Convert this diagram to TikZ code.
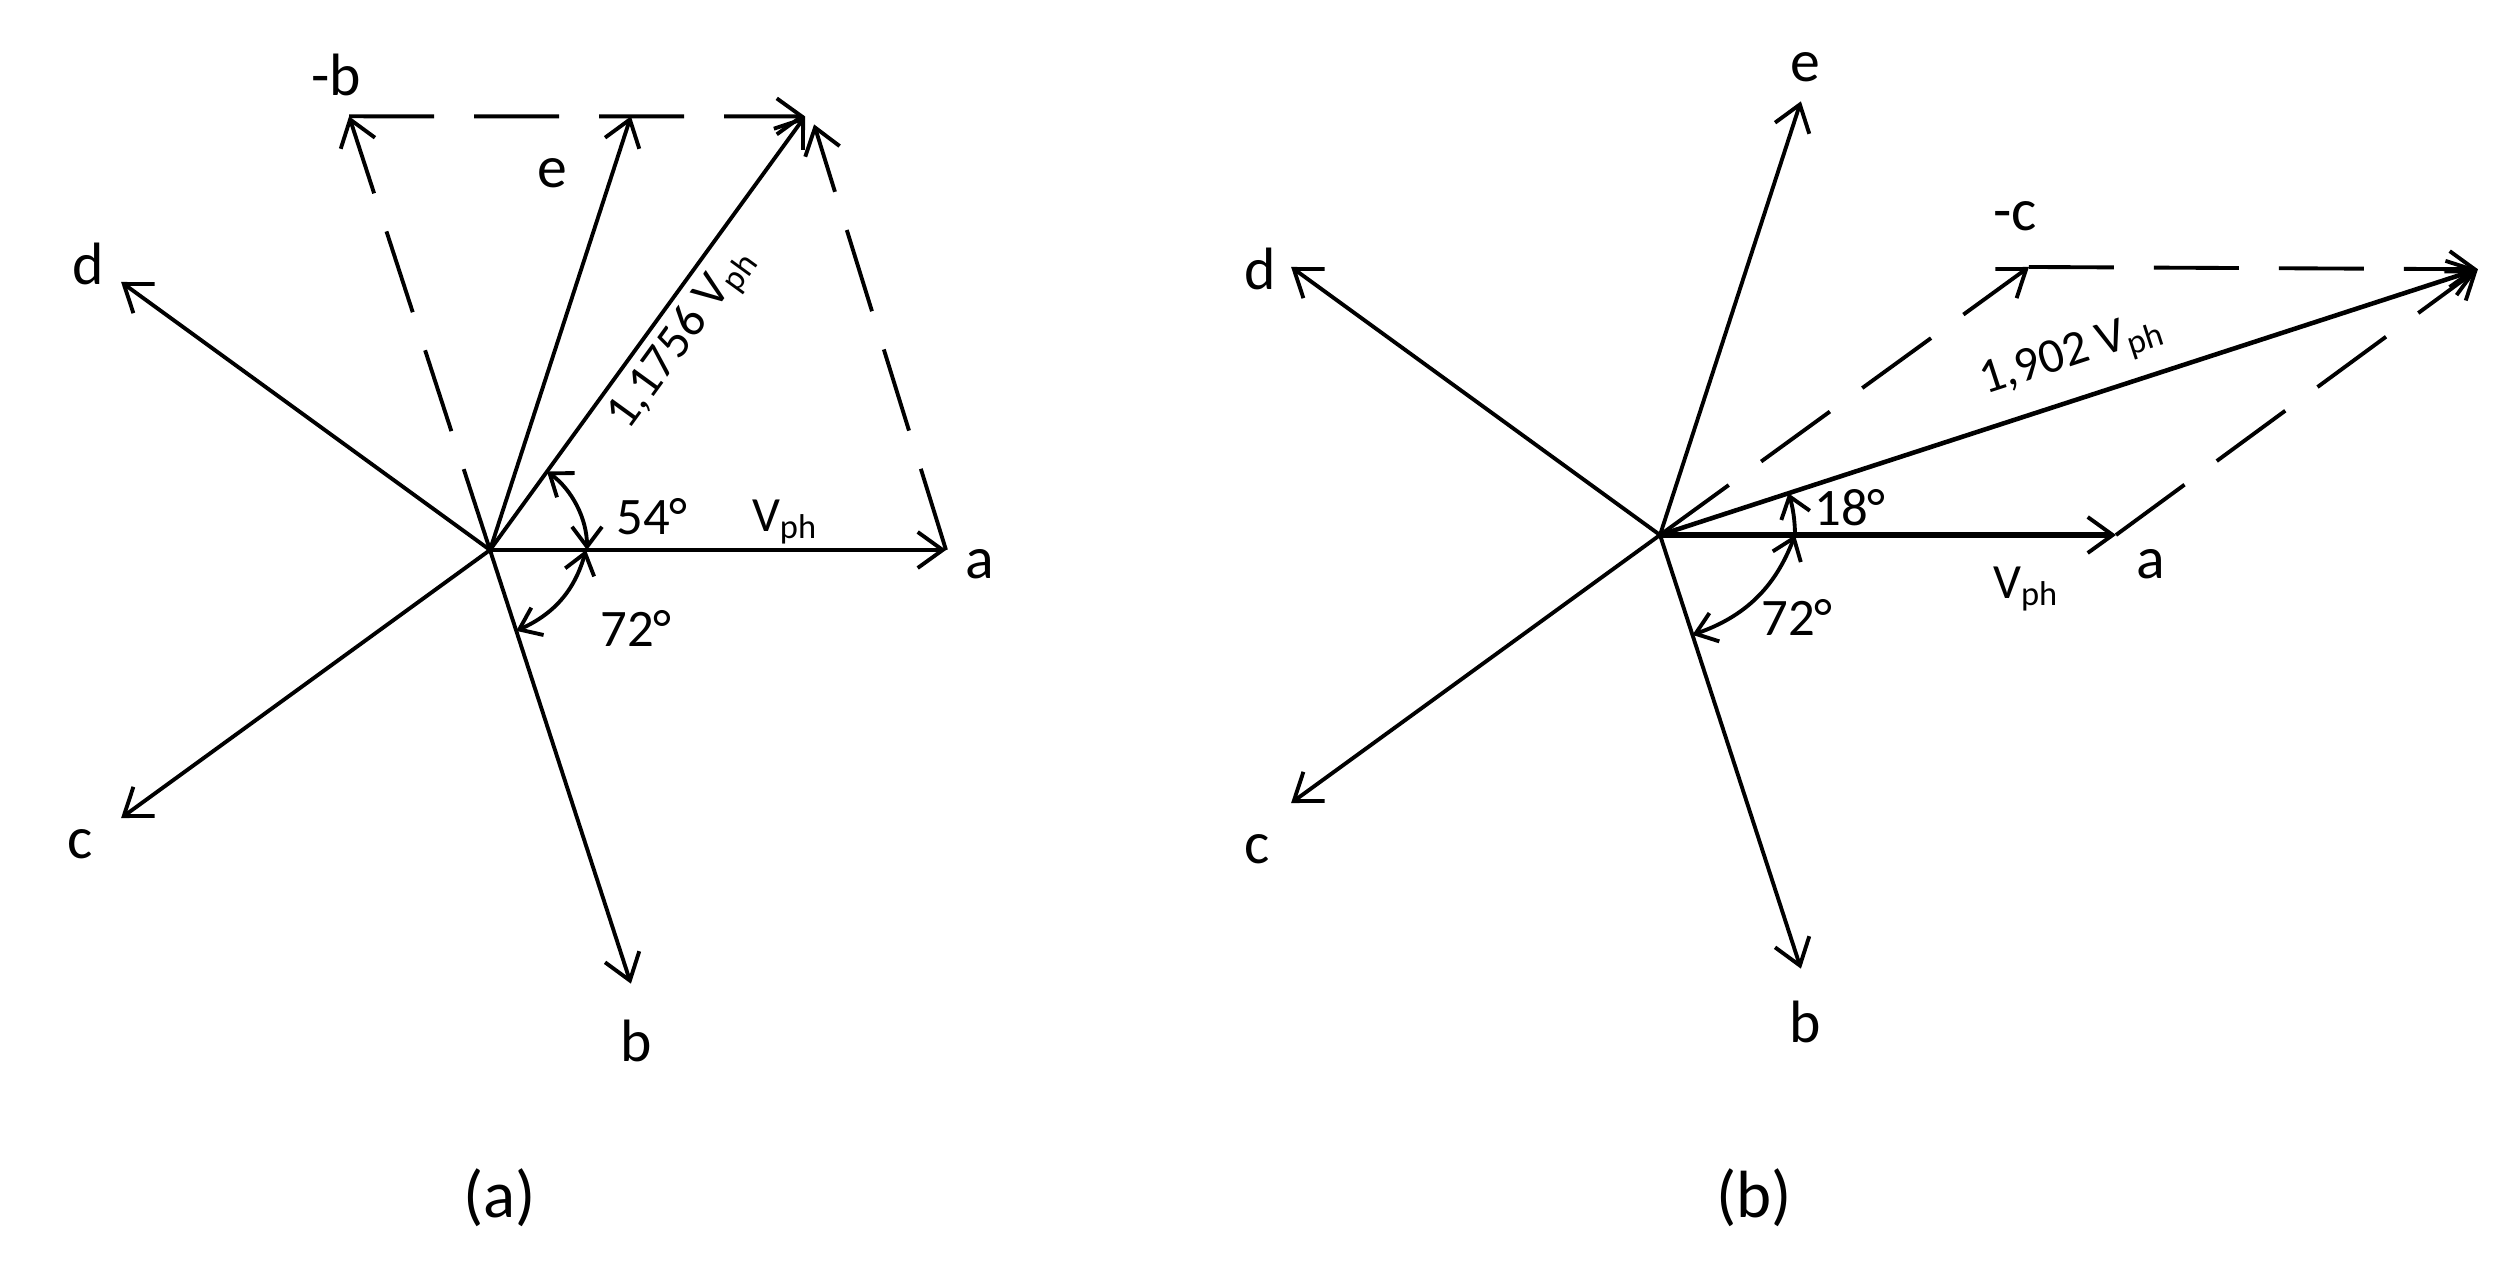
\documentclass[tikz,border=0pt]{standalone}
\usepackage{fontspec}
\setmainfont{Carlito}
\usetikzlibrary{arrows.meta,calc}
\begin{document}
\begin{tikzpicture}[x=0.1mm,y=0.1mm,
  tipb/.tip={Straight Barb[length=2.5mm,width=3.6mm,line width=1.1pt]},
  tips/.tip={Straight Barb[length=2mm,width=3mm,line width=1.1pt]},
  vec/.style={line width=1.1pt,-tipb},
  dvec/.style={vec,dash pattern=on 8.5mm off 4mm},
  angarc/.style={line width=1.1pt,tips-tips},
  lab/.style={font=\fontsize{17}{20}\selectfont, inner sep=0pt},
  deg/.style={font=\fontsize{15}{18}\selectfont, inner sep=0pt},
  mag/.style={font=\fontsize{14}{16}\selectfont, inner sep=2pt},
  captext/.style={font=\fontsize{19}{22}\selectfont, inner sep=0pt}]
\useasboundingbox (0,0) rectangle (2511,-1266);
\fill[white] (0,0) rectangle (2511,-1266);

% ---------- panel (a) ----------
\coordinate (Oa) at (490,-550);
\coordinate (Aa) at ($(Oa)+(0:456)$);
\coordinate (Ba) at ($(Oa)+(-72:456)$);
\coordinate (Ca) at ($(Oa)+(-144:456)$);
\coordinate (Da) at ($(Oa)+(144:456)$);
\coordinate (Ea) at ($(Oa)+(72:456)$);
\coordinate (NBa) at ($(Oa)+(108:456)$);
\coordinate (Ra) at ($(Oa)+(54:536)$);
\coordinate (Rax) at ($(Ra)+(9,-8)$);

\draw[vec,line width=1.4pt] (Oa) -- (Aa);
\draw[vec] (Oa) -- (Ba);
\draw[vec] (Oa) -- (Ca);
\draw[vec] (Oa) -- (Da);
\draw[vec] (Oa) -- (Ea);
\draw[vec] (Oa) -- node[mag,below,sloped,pos=0.53] {1,1756 V\textsubscript{ph}} (Ra);
\draw[dvec] (Oa) -- (NBa);
\draw[dvec] (NBa) -- (Ra);
\draw[dvec] (Aa) -- (Rax);

\draw[angarc] ($(Oa)+(0:97)$) arc[start angle=0,end angle=54,radius=97];
\draw[angarc] ($(Oa)+(0:96)$) to[bend left=25] ($(Oa)+(-72:85)$);

\node[lab] (la) at (980,-564) {a};
\node[lab] (lb) at (636,-1041) {b};
\node[lab] (lc) at (80,-844) {c};
\node[lab] (ld) at (88,-264) {d};
\node[lab] (le) at (552,-173) {e};
\node[lab] (lnb) at (336,-75) {-b};
\node[mag] (vpha) at (785,-522) {V\textsubscript{ph}};
\node[deg] (d54) at (652,-517) {54°};
\node[deg] (d72a) at (636,-628) {72°};
\node[captext] (capa) at (500,-1198) {(a)};

% ---------- panel (b) ----------
\coordinate (Ob) at (1660,-535);
\coordinate (Ab) at ($(Ob)+(0:456)$);
\coordinate (Bb) at ($(Ob)+(-72:456)$);
\coordinate (Cb) at ($(Ob)+(-144:456)$);
\coordinate (Db) at ($(Ob)+(144:456)$);
\coordinate (Eb) at ($(Ob)+(72:456)$);
\coordinate (NCb) at ($(Ob)+(36:456)$);
\coordinate (Rb) at ($(Ob)+(18:860)$);

\draw[vec,line width=1.8pt] (Ob) -- (Ab);
\draw[vec] (Ob) -- (Bb);
\draw[vec] (Ob) -- (Cb);
\draw[vec] (Ob) -- (Db);
\draw[vec] (Ob) -- (Eb);
\draw[vec,line width=1.3pt] (Ob) -- node[mag,above,sloped,pos=0.52,inner sep=5pt] {1,902 V\textsubscript{ph}} (Rb);
\draw[dvec] (Ob) -- (NCb);
\draw[dvec] (NCb) -- (Rb);
\draw[dvec] (Ab) -- (Rb);

\draw[line width=1.1pt,-tips] ($(Ob)+(0:135)$) arc[start angle=0,end angle=18,radius=135];
\draw[angarc] ($(Ob)+(0:135)$) to[bend left=25] ($(Ob)+(-72:105)$);

\node[lab] (la2) at (2151,-564) {a};
\node[lab] (lb2) at (1805,-1022) {b};
\node[lab] (lc2) at (1257,-849) {c};
\node[lab] (ld2) at (1260,-269) {d};
\node[lab] (le2) at (1805,-67) {e};
\node[lab] (lnc) at (2015,-216) {-c};
\node[mag] (vphb) at (2026,-589) {V\textsubscript{ph}};
\node[deg] (d18) at (1850,-508) {18°};
\node[deg] (d72b) at (1797,-617) {72°};
\node[captext] (capb) at (1754,-1198) {(b)};
\end{tikzpicture}
\end{document}
